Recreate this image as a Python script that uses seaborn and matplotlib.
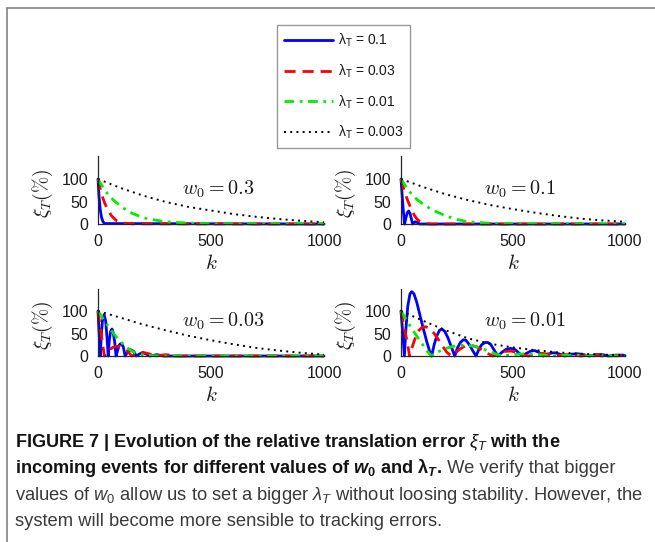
import matplotlib
matplotlib.use("Agg")
import matplotlib.pyplot as plt
import seaborn as sns
from matplotlib import font_manager
from matplotlib.lines import Line2D

# ---------------------------------------------------------------------------
# Relative translation error xi_T (%) versus incoming events k,
# for four initial weights w0 and four forgetting rates lambda_T.
# ---------------------------------------------------------------------------
lambda_labels = ["0.1", "0.03", "0.01", "0.003"]
panel_titles = ["0.3", "0.1", "0.03", "0.01"]
x_ticks = [0, 500, 1000]
y_ticks = [0, 50, 100]

# w0 = 0.3
k_w03_l1 = [0, 5, 10, 15, 22, 30, 1000]
xi_w03_l1 = [100, 58, 32, 16, 5, 1, 0]
k_w03_l2 = [0, 10, 20, 30, 40, 50, 60, 80, 110, 150, 1000]
xi_w03_l2 = [100, 78, 60, 46, 35, 26, 18, 8, 2, 0.5, 0]
k_w03_l3 = [0, 25, 50, 75, 100, 125, 150, 200, 250, 300, 400, 500, 1000]
xi_w03_l3 = [100, 79, 62, 50, 40, 31, 24, 14, 9, 5, 2, 0.6, 0]
k_w03_l4 = [0, 100, 200, 300, 400, 500, 600, 700, 800, 900, 1000]
xi_w03_l4 = [100, 80, 63, 49, 38, 30, 22, 16, 11, 7, 4]

# w0 = 0.1
k_w01_l1 = [0, 4, 8, 12, 16, 22, 28, 34, 40, 46, 52, 58, 64, 70, 76, 84, 1000]
xi_w01_l1 = [100, 72, 45, 20, 0, 14, 25, 29, 24, 12, 0, 3, 5, 4, 2, 0, 0]
k_w01_l2 = [0, 10, 20, 30, 40, 50, 60, 70, 80, 100, 130, 1000]
xi_w01_l2 = [100, 82, 66, 52, 40, 29, 19, 12, 7, 2, 0, 0]
k_w01_l3 = [0, 25, 50, 75, 100, 125, 150, 200, 250, 300, 400, 500, 1000]
xi_w01_l3 = [100, 80, 65, 53, 44, 36, 29, 18, 10, 5, 1.5, 0.5, 0]
k_w01_l4 = [0, 100, 200, 300, 400, 500, 600, 700, 800, 900, 1000]
xi_w01_l4 = [100, 82, 66, 53, 42, 33, 25, 18, 12, 8, 5]

# w0 = 0.03
k_w003_l1 = [0, 5, 10, 15, 20, 27, 34, 40, 45, 50, 56, 62, 68, 74, 80, 88, 96,
             104, 112, 120, 130, 145, 158, 170, 185, 200, 215, 230, 260, 290, 1000]
xi_w003_l1 = [100, 50, 0, 50, 80, 92, 78, 40, 0, 35, 55, 60, 50, 30, 0, 15, 26,
              28, 20, 0, 8, 14, 10, 0, 5, 7, 4, 0, 3, 0, 0]
k_w003_l2 = [0, 7, 14, 21, 28, 45, 65, 90, 115, 135, 150, 175, 200, 225, 250,
             300, 350, 1000]
xi_w003_l2 = [100, 75, 50, 25, 0, 12, 19, 22, 17, 8, 0, 6, 8, 5, 0, 3, 0, 0]
k_w003_l3 = [0, 20, 40, 60, 80, 100, 120, 140, 160, 180, 200, 250, 300, 1000]
xi_w003_l3 = [100, 85, 70, 56, 43, 32, 22, 14, 8, 4, 2, 0.5, 0, 0]
k_w003_l4 = [0, 100, 200, 300, 400, 500, 600, 700, 800, 900, 1000]
xi_w003_l4 = [100, 85, 70, 57, 45, 35, 26, 18, 12, 7, 3]

# w0 = 0.01
k_w001_l1 = [0, 8, 15, 22, 30, 40, 48, 58, 70, 85, 100, 115, 127, 137, 148, 160,
             172, 182, 195, 210, 225, 240, 252, 265, 278, 290, 305, 320, 335, 348,
             360, 375, 388, 400, 415, 432, 450, 470, 490, 510, 528, 542, 560, 580,
             598, 615, 635, 655, 675, 690, 710, 730, 760, 790, 815, 840, 870, 900,
             925, 960, 990, 1000]
xi_w001_l1 = [100, 50, 0, 60, 110, 138, 143, 138, 120, 90, 60, 32, 12, 0, 25, 45,
              57, 60, 55, 40, 20, 0, 18, 30, 36, 35, 25, 12, 0, 15,
              25, 30, 30, 26, 14, 0, 8, 15, 17, 14, 6, 0, 6, 11,
              12, 8, 0, 4, 7, 7, 4, 0, 4, 5, 3, 0, 3, 3,
              0, 2, 2, 1]
k_w001_l2 = [0, 10, 20, 30, 38, 50, 65, 80, 95, 110, 125, 145, 165, 185, 205, 225,
             245, 265, 285, 310, 335, 360, 385, 410, 435, 460, 490, 520, 550, 570,
             600, 630, 660, 690, 730, 770, 800, 850, 900, 1000]
xi_w001_l2 = [100, 75, 50, 25, 0, 20, 42, 57, 64, 65, 62, 52, 38, 22, 8, 0,
              8, 16, 22, 24, 21, 14, 6, 0, 5, 10, 11, 8, 2, 0,
              4, 6, 4, 0, 3, 3, 0, 2, 1, 0.5]
k_w001_l3 = [0, 30, 60, 90, 115, 135, 160, 190, 220, 250, 280, 310, 340, 370, 400,
             430, 450, 480, 520, 560, 600, 640, 670, 720, 780, 830, 880, 1000]
xi_w001_l3 = [100, 75, 52, 30, 12, 0, 8, 15, 20, 23, 24, 23, 20, 15, 9,
              3, 0, 2, 4, 5, 4, 2, 0, 1.5, 2, 1, 0, 0.5]
k_w001_l4 = [0, 100, 200, 300, 400, 500, 600, 700, 800, 900, 1000]
xi_w001_l4 = [100, 78, 57, 39, 27, 19, 13, 8, 5, 3, 2]

curves = [
    [(k_w03_l1, xi_w03_l1), (k_w03_l2, xi_w03_l2), (k_w03_l3, xi_w03_l3), (k_w03_l4, xi_w03_l4)],
    [(k_w01_l1, xi_w01_l1), (k_w01_l2, xi_w01_l2), (k_w01_l3, xi_w01_l3), (k_w01_l4, xi_w01_l4)],
    [(k_w003_l1, xi_w003_l1), (k_w003_l2, xi_w003_l2), (k_w003_l3, xi_w003_l3), (k_w003_l4, xi_w003_l4)],
    [(k_w001_l1, xi_w001_l1), (k_w001_l2, xi_w001_l2), (k_w001_l3, xi_w001_l3), (k_w001_l4, xi_w001_l4)],
]

# line styles per lambda_T
colors = ["#0000ff", "#ff0000", "#00ee00", "#000000"]
styles = ["-", (0, (4, 2.5)), (0, (3.5, 2, 1, 2)), (0, (1, 2.2))]
widths = [2.0, 2.0, 2.0, 1.4]

sns.set_theme(style="white")
names = {f.name for f in font_manager.fontManager.ttflist}
cap_font = "Liberation Sans Narrow" if "Liberation Sans Narrow" in names else "Liberation Sans"
plt.rcParams["font.family"] = ["Liberation Sans", "DejaVu Sans"]
plt.rcParams["mathtext.fontset"] = "cm"
plt.rcParams["mathtext.rm"] = cap_font
plt.rcParams["mathtext.it"] = cap_font + ":italic"
plt.rcParams["mathtext.bf"] = cap_font + ":bold"
plt.rcParams["mathtext.bfit"] = cap_font + ":italic:bold"
plt.rcParams["mathtext.sf"] = "Liberation Sans"

W, H = 655, 542
fig = plt.figure(figsize=(W / 100, H / 100), dpi=100)
fig.patch.set_facecolor("white")

# axes boxes in pixels: left, top(y=150), right, bottom(y=0)
boxes = [(98, 156.5, 324, 224), (401, 156.5, 625, 224),
         (98, 288.5, 324, 356), (401, 288.5, 625, 356)]

handles = []
for idx, (l, t, r, b) in enumerate(boxes):
    ax = fig.add_axes([l / W, 1 - b / H, (r - l) / W, (b - t) / H])
    for j, (k, xi) in enumerate(curves[idx]):
        sns.lineplot(x=k, y=xi, ax=ax, color=colors[j], linestyle=styles[j],
                     linewidth=widths[j], estimator=None, sort=False,
                     legend=False, clip_on=False)
    ax.set_xlim(0, 1000)
    ax.set_ylim(0, 150)
    ax.set_xticks(x_ticks)
    ax.set_yticks(y_ticks)
    ax.set_xticklabels([str(v) for v in x_ticks])
    ax.set_yticklabels([str(v) for v in y_ticks])
    ax.tick_params(direction="in", length=3, width=0.8, labelsize=11.5,
                   colors="#1a1a1a", pad=7)
    sns.despine(ax=ax)
    for s in ("left", "bottom"):
        ax.spines[s].set_color("#262626")
        ax.spines[s].set_linewidth(0.9)
    ax.set_facecolor("white")
    ax.set_xlabel(r"$k$", fontsize=15, color="#1a1a1a")
    ax.xaxis.set_label_coords(0.5, -0.45)
    ax.set_ylabel(r"$\xi_T(\%)$", fontsize=14, color="#1a1a1a")
    ax.yaxis.set_label_coords(-0.19, 0.45)
    ax.text(370, 78, r"$w_0 = " + panel_titles[idx] + r"$", fontsize=14.5,
            ha="left", va="center", color="#1a1a1a")
    if idx == 0:
        handles = ax.get_lines()[:4]

labels = [r"$\mathsf{\lambda_T}$ = " + v for v in lambda_labels]
leg = fig.legend(handles, labels, loc="upper left",
                 bbox_to_anchor=(277 / W, 1 - 25 / H), bbox_transform=fig.transFigure,
                 frameon=True, fancybox=False, edgecolor="#808080", fontsize=10,
                 handlelength=3.5, labelspacing=0.95, borderpad=0.5,
                 handletextpad=0.4, borderaxespad=0)
leg.get_frame().set_linewidth(1.0)
for t in leg.get_texts():
    t.set_math_fontfamily("custom")
    t.set_color("#1a1a1a")

# frame around the figure panel
fig.add_artist(Line2D([7 / W, 7 / W], [0, 1 - 8 / H], transform=fig.transFigure,
                      color="#8c8c8c", lw=1.3))
fig.add_artist(Line2D([7 / W, 1], [1 - 8 / H, 1 - 8 / H], transform=fig.transFigure,
                      color="#8c8c8c", lw=1.3))

# caption
cap_size = 13.1
norm_size = 13.25
bold_col = "#141414"
norm_col = "#3a3a3a"
x0 = 15 / W
renderer = fig.canvas.get_renderer()

fig.text(x0, 1 - 447 / H,
         r"FIGURE 7 | Evolution of the relative translation error $\xi_T$ with the",
         fontsize=cap_size, fontweight="bold", family=cap_font, color=bold_col,
         va="baseline", math_fontfamily="custom")
t2 = fig.text(x0, 1 - 473 / H,
              r"incoming events for different values of $\mathbfit{w}_\mathbf{0}$ and $\mathbf{\lambda}_\mathbfit{T}$.",
              fontsize=cap_size, fontweight="bold", family=cap_font, color=bold_col,
              va="baseline", math_fontfamily="custom")
bb = t2.get_window_extent(renderer)
fig.text(bb.x1 / W, 1 - 473 / H, " We verify that bigger",
         fontsize=norm_size, family=cap_font, color=norm_col, va="baseline")
fig.text(x0, 1 - 500 / H,
         r"values of $w_0$ allow us to set a bigger $\lambda_T$ without loosing stability. However, the",
         fontsize=norm_size, family=cap_font, color=norm_col, va="baseline",
         math_fontfamily="custom")
fig.text(x0, 1 - 526 / H, "system will become more sensible to tracking errors.",
         fontsize=norm_size, family=cap_font, color=norm_col, va="baseline")

fig.savefig("out.png", dpi=100, facecolor="white")
